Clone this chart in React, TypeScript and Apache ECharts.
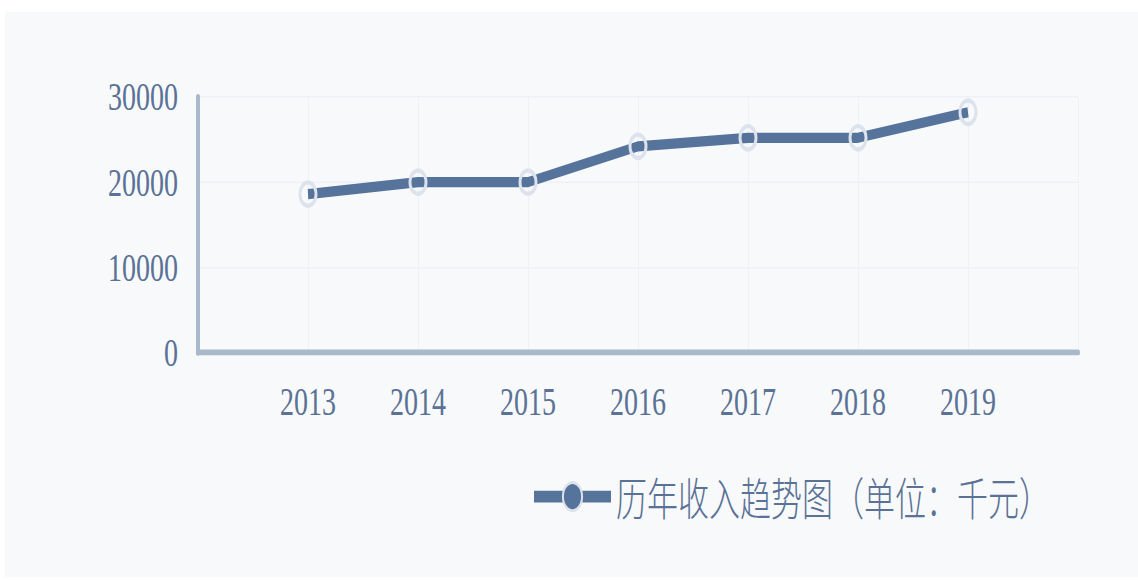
import React, { useEffect, useRef } from "react";
import * as echarts from "echarts";

const years = [2013, 2014, 2015, 2016, 2017, 2018, 2019];
const revenue = [18600, 20000, 20000, 24200, 25200, 25200, 28200];
const seriesName = "历年收入趋势图（单位：千元）";
const yTicks = { min: 0, max: 30000, interval: 10000 };
const xRange = { min: 2012, max: 2020, interval: 1 };

const TEXT = "#5a7295";
const LINE = "#56739b";
const AXIS = "#a9b9cc";
const GRID = "#eef1f5";
const BG = "#f8f9fb";
const FONT = "Liberation Serif";
const CJK_FONT = "Noto Sans CJK SC";

export default function App() {
  const ref = useRef<HTMLDivElement>(null);
  useEffect(() => {
    if (!ref.current) return;
    const chart = echarts.init(ref.current, undefined, { renderer: "svg" });
    chart.setOption({
      animation: false,
      backgroundColor: BG,
      grid: { left: 193, right: 60, top: 58.6, bottom: 154.8 },
      legend: {
        left: 525,
        top: 319,
        padding: 0,
        itemGap: 10,
        itemWidth: 77,
        itemHeight: 24,
        itemStyle: { color: LINE },
        textStyle: { color: TEXT, fontSize: 31, fontFamily: CJK_FONT, fontWeight: 300 },
        lineStyle: { width: 8 },
        data: [seriesName],
      },
      xAxis: {
        type: "value",
        min: xRange.min,
        max: xRange.max,
        interval: xRange.interval,
        axisLine: { show: true, lineStyle: { color: AXIS, width: 4 } },
        axisTick: { show: false },
        splitLine: { show: true, lineStyle: { color: GRID, width: 1 } },
        axisLabel: {
          showMinLabel: false,
          showMaxLabel: false,
          margin: 20,
          color: TEXT,
          fontSize: 28,
          fontFamily: FONT,
          formatter: (v: number) => String(v),
        },
      },
      yAxis: {
        type: "value",
        min: yTicks.min,
        max: yTicks.max,
        interval: yTicks.interval,
        axisLine: { show: true, lineStyle: { color: AXIS, width: 4 } },
        axisTick: { show: false },
        splitLine: { show: true, lineStyle: { color: GRID, width: 1 } },
        axisLabel: {
          margin: 20,
          color: TEXT,
          fontSize: 28,
          fontFamily: FONT,
          formatter: (v: number) => String(v),
        },
      },
      series: [
        {
          name: seriesName,
          type: "line",
          data: years.map((y, i) => [y, revenue[i]]),
          symbol: "circle",
          symbolSize: 16,
          lineStyle: { color: LINE, width: 7 },
          itemStyle: {
            color: "rgba(0,0,0,0)",
            borderColor: "#dce3ec",
            borderWidth: 3,
          },
        },
      ],
    });
    return () => chart.dispose();
  }, []);
  return (
    <div
      style={{
        position: "absolute",
        left: 5,
        top: 12,
        width: 1133,
        height: 390,
        transform: "scaleY(1.4487)",
        transformOrigin: "0 0",
      }}
    >
      <div ref={ref} style={{ width: 1133, height: 390 }} />
    </div>
  );
}
